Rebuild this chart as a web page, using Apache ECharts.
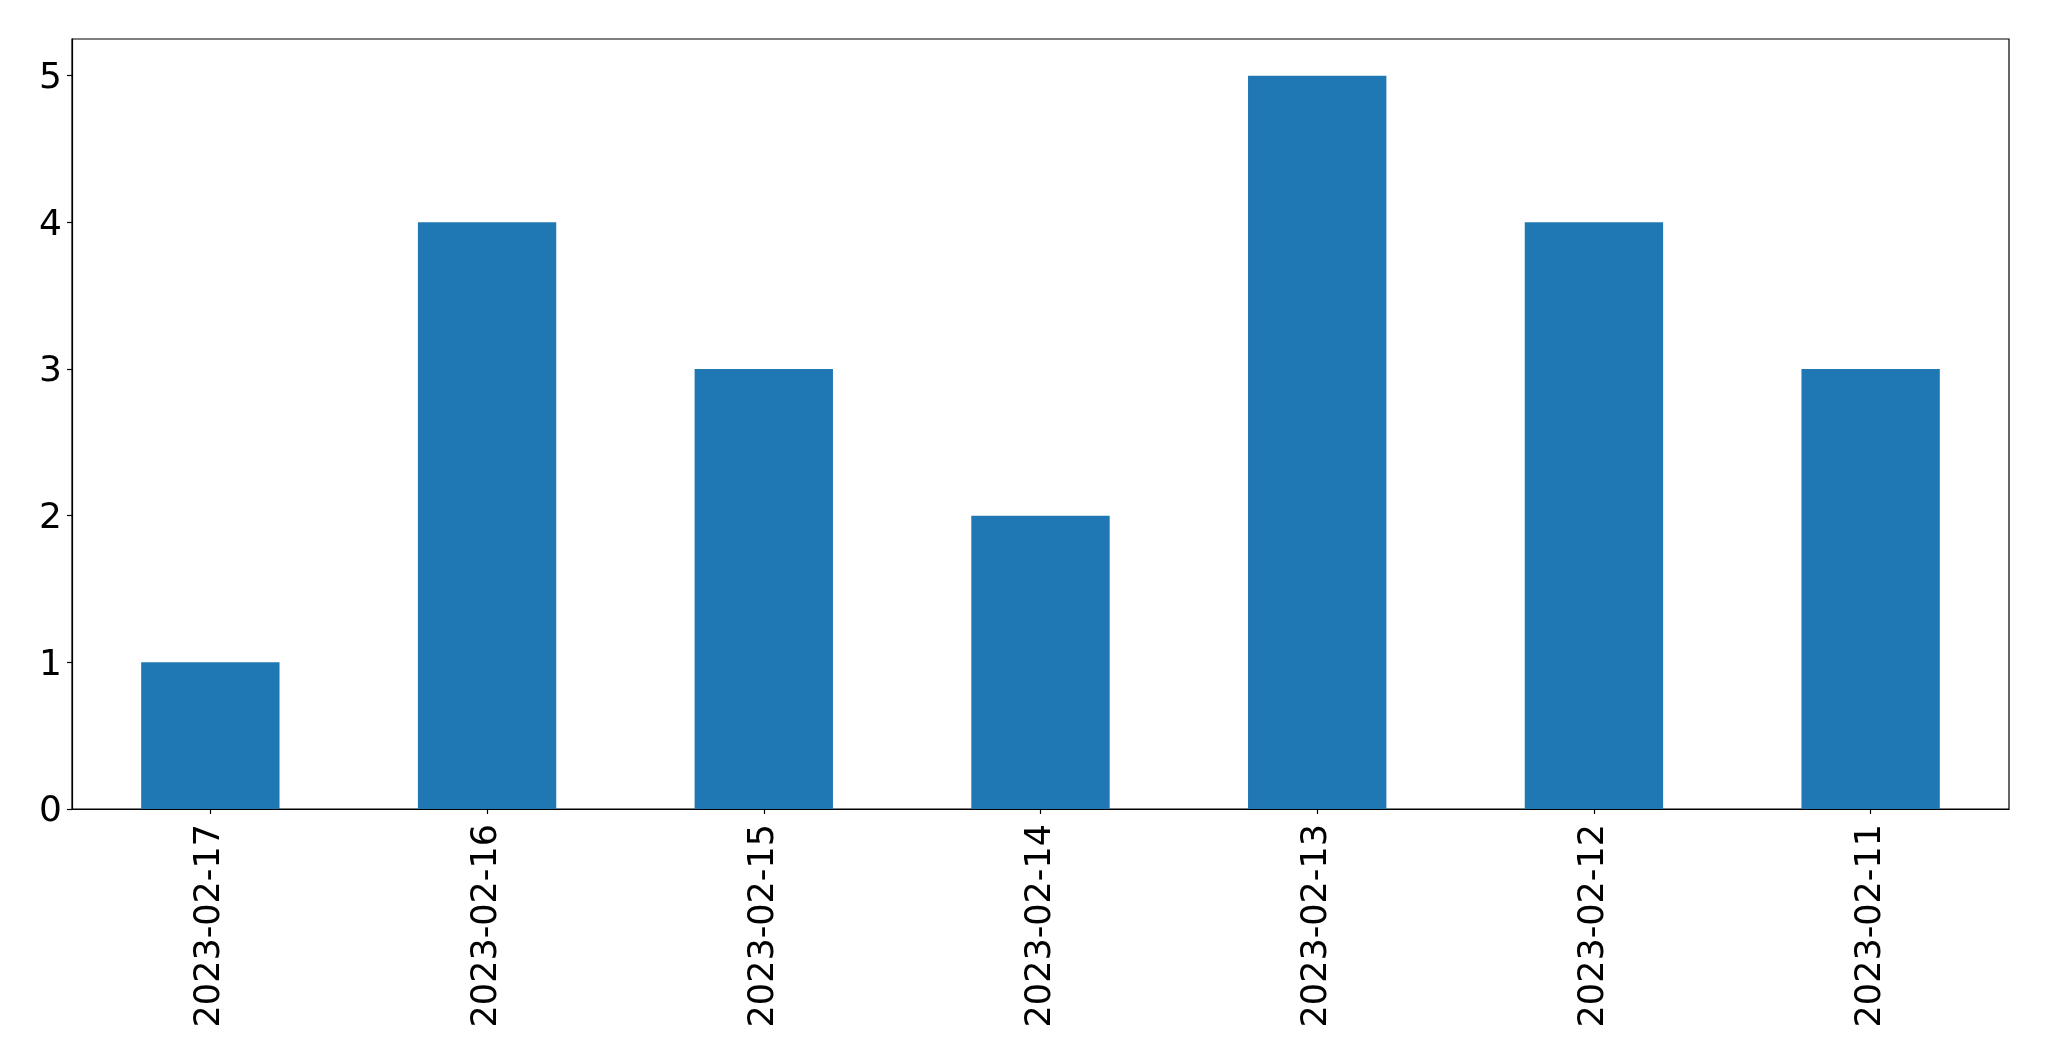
<!DOCTYPE html>
<html>
<head>
<meta charset="utf-8">
<script src="https://cdn.jsdelivr.net/npm/echarts@6/dist/echarts.min.js"></script>
<style>
html,body{margin:0;padding:0;background:#fff;}
#chart{width:2049px;height:1061px;}
</style>
</head>
<body>
<div id="chart"></div>
<script>
const categories = ['2023-02-17','2023-02-16','2023-02-15','2023-02-14','2023-02-13','2023-02-12','2023-02-11'];
const values = [1, 4, 3, 2, 5, 4, 3];
const yTicks = [0, 1, 2, 3, 4, 5];

const chart = echarts.init(document.getElementById('chart'), null, {renderer: 'canvas'});
const font = 'DejaVu Sans';
chart.setOption({
  animation: false,
  backgroundColor: '#fff',
  grid: {
    left: 72, right: 40, top: 39, bottom: 252,
    show: true, borderColor: '#000', borderWidth: 1.2, backgroundColor: 'transparent'
  },
  xAxis: {
    type: 'category',
    data: categories,
    boundaryGap: true,
    axisLine: {show: true, lineStyle: {color: '#000', width: 1.2}},
    axisTick: {show: true, alignWithLabel: true, length: 5, lineStyle: {color: '#000', width: 1.2}},
    axisLabel: {rotate: 90, margin: 15, fontSize: 35, fontFamily: font, color: '#000', interval: 0},
    splitLine: {show: false}
  },
  yAxis: {
    type: 'value',
    min: 0, max: 5.25, interval: 1,
    axisLine: {show: true, lineStyle: {color: '#000', width: 1.2}},
    axisTick: {show: true, length: 5, lineStyle: {color: '#000', width: 1.2}, customValues: yTicks},
    axisLabel: {
      margin: 10, fontSize: 36, fontFamily: font, color: '#000', customValues: yTicks,
      formatter: function (v) { return '{a|' + v + '}'; },
      rich: {a: {fontSize: 36, fontFamily: font, color: '#000', padding: [6, 0, 0, 0]}}
    },
    splitLine: {show: false}
  },
  series: [{
    type: 'bar',
    data: values,
    barWidth: '50%',
    itemStyle: {color: '#1f77b4'}
  }]
});
</script>
</body>
</html>
